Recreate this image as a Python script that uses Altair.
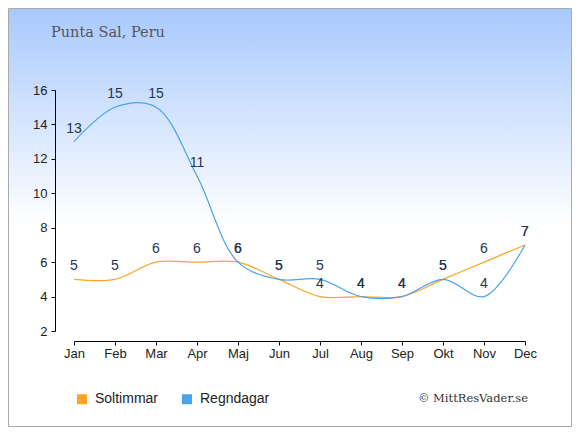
import altair as alt
import pandas as pd

months = ["Jan", "Feb", "Mar", "Apr", "Maj", "Jun", "Jul", "Aug", "Sep", "Okt", "Nov", "Dec"]
soltimmar = [5, 5, 6, 6, 6, 5, 4, 4, 4, 5, 6, 7]
regndagar = [13, 15, 15, 11, 6, 5, 5, 4, 4, 5, 4, 7]
series = ["Soltimmar", "Regndagar"]
y_ticks = [2, 4, 6, 8, 10, 12, 14, 16]

line_colors = ["#ffa424", "#4aa3ec"]

rows = []
for s, vals in zip(series, [soltimmar, regndagar]):
    for i, (m, v) in enumerate(zip(months, vals)):
        rows.append({"Manad": m, "Varde": v, "Serie": s, "order": series.index(s)})
df = pd.DataFrame(rows)

W, H = 451, 241
PAD = {"left": 66, "top": 82, "right": 47, "bottom": 96}

x_enc = alt.X(
    "Manad:N",
    sort=months,
    scale=alt.Scale(type="point", padding=0),
    axis=alt.Axis(
        title=None, labelAngle=0, offset=10, tickSize=4, labelPadding=2,
        domainColor="#000000", tickColor="#000000", labelColor="#222222",
        labelFont="Liberation Sans", labelFontSize=13, grid=False, zindex=1,
    ),
)
y_enc = alt.Y(
    "Varde:Q",
    scale=alt.Scale(domain=[2, 16], nice=False, zero=False),
    axis=alt.Axis(
        title=None, values=y_ticks, offset=19, tickSize=4, labelPadding=4,
        domainColor="#000000", tickColor="#000000", labelColor="#222222",
        labelFont="Liberation Sans", labelFontSize=13, grid=False, zindex=1,
    ),
)

bg = alt.Chart(pd.DataFrame({"a": [0]})).mark_rect(
    color=alt.Gradient(
        gradient="linear",
        stops=[
            alt.GradientStop(color="#a8c9fd", offset=0),
            alt.GradientStop(color="#ffffff", offset=0.52),
            alt.GradientStop(color="#ffffff", offset=1),
        ],
        x1=0, x2=0, y1=0, y2=1,
    ),
    stroke="#aaaaaa",
    strokeWidth=1,
).encode(
    x=alt.value(-PAD["left"] + 0.5),
    x2=alt.value(W + PAD["right"] - 0.5),
    y=alt.value(-PAD["top"] + 0.5),
    y2=alt.value(H + PAD["bottom"] - 0.5),
)

base = alt.Chart(df)

lines = base.mark_line(interpolate="catmull-rom", strokeWidth=1.2).encode(
    x=x_enc,
    y=y_enc,
    stroke=alt.Stroke(
        "Serie:N",
        scale=alt.Scale(domain=series, range=line_colors),
        legend=alt.Legend(
            title=None, orient="none", direction="horizontal",
            legendX=1, legendY=302, padding=0, zindex=1,
            symbolType="square", symbolSize=25, symbolStrokeWidth=5,
            labelFont="Liberation Sans", labelFontSize=14, labelColor="#222222",
            labelOffset=6, columnPadding=15,
        ),
    ),
    order=alt.Order("order:Q"),
    detail="Serie:N",
)

labels_sol = alt.Chart(df[df["Serie"] == "Soltimmar"]).mark_text(
    dy=-13, baseline="middle", align="center", font="Liberation Sans", fontSize=14, color="#233554"
).encode(x=x_enc, y=y_enc, text="Varde:Q")

labels_reg = alt.Chart(df[df["Serie"] == "Regndagar"]).mark_text(
    dy=-13, baseline="middle", align="center", font="Liberation Sans", fontSize=14, color="#233554"
).encode(x=x_enc, y=y_enc, text="Varde:Q")

title = alt.Chart(pd.DataFrame({"t": ["Punta Sal, Peru"]})).mark_text(
    align="left", baseline="alphabetic", font="DejaVu Serif", fontSize=14.5, color="#555555"
).encode(x=alt.value(-23), y=alt.value(-53), text="t:N")

credit = alt.Chart(pd.DataFrame({"t": ["© MittResVader.se"]})).mark_text(
    align="right", baseline="alphabetic", font="DejaVu Serif", fontSize=11.5, color="#333333"
).encode(x=alt.value(454), y=alt.value(312), text="t:N")

chart = alt.layer(bg, lines, labels_sol, labels_reg, title, credit).properties(
    width=W, height=H, padding=PAD, autosize=alt.AutoSizeParams(type="none"),
).configure_view(strokeWidth=0)

chart.save("out.html", embed_options={"renderer": "svg", "actions": False})
